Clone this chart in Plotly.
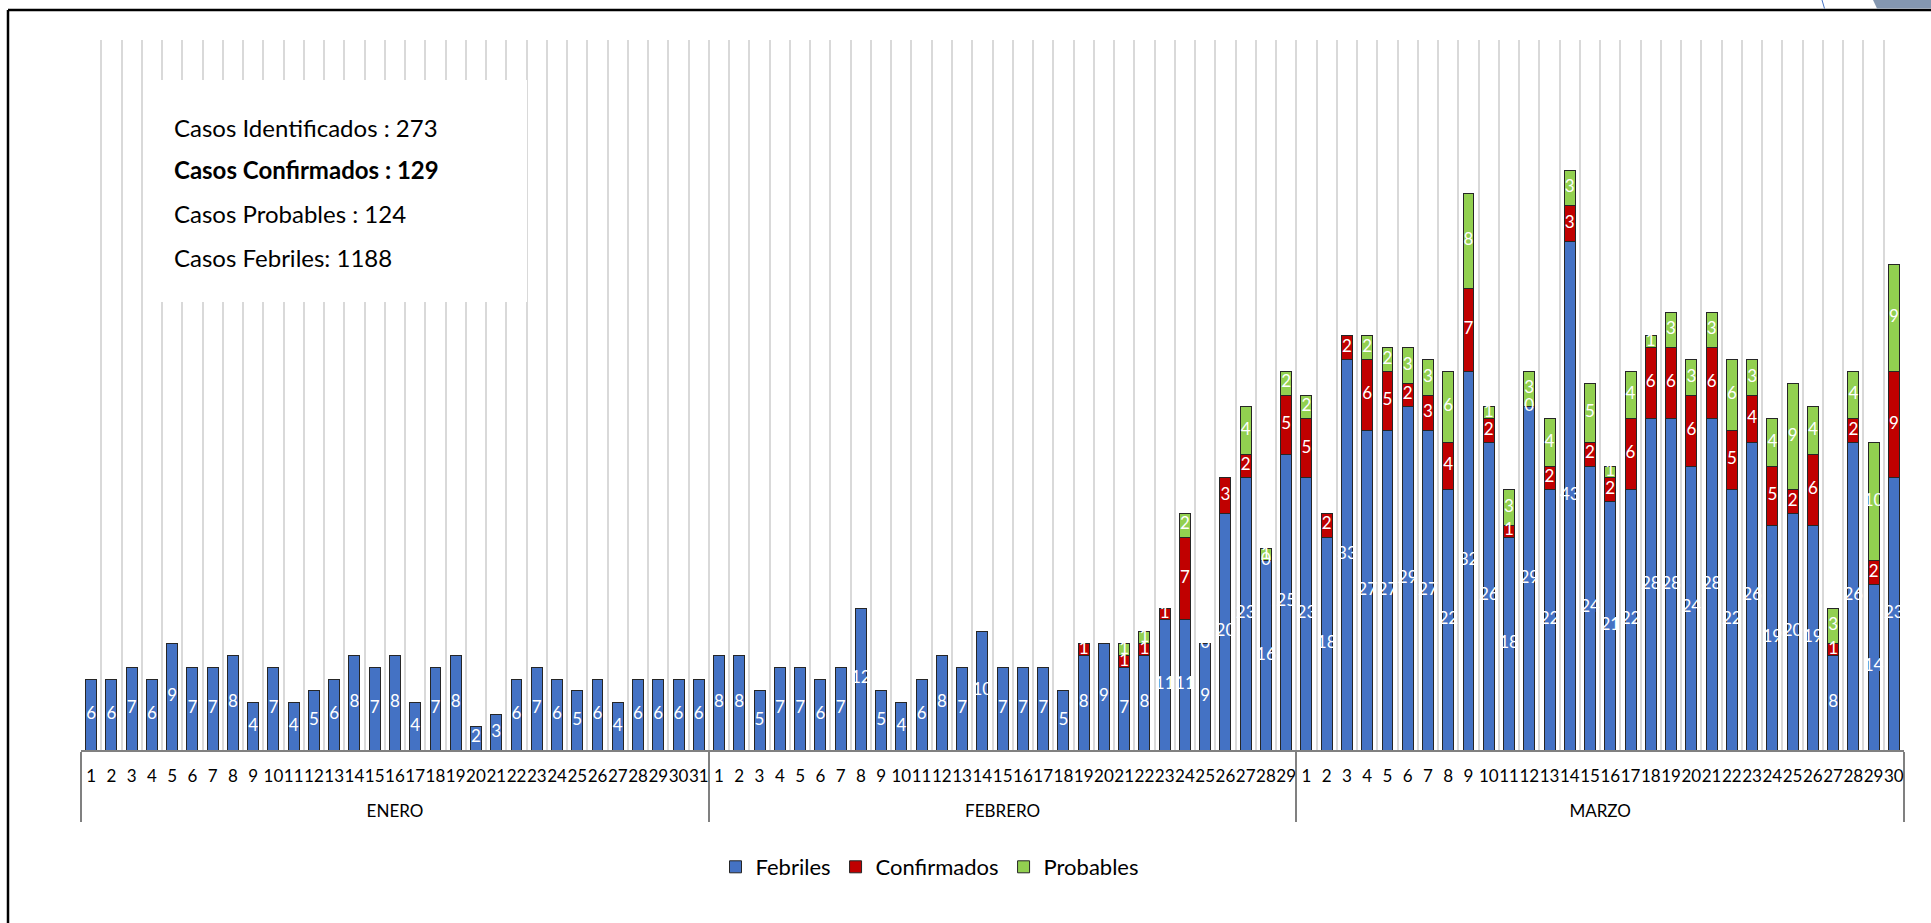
import plotly.graph_objects as go

# ---------------- data ----------------
month_names = ["ENERO", "FEBRERO", "MARZO"]

febriles_enero = [6, 6, 7, 6, 9, 7, 7, 8, 4, 7, 4, 5, 6, 8, 7, 8, 4, 7, 8, 2, 3, 6, 7, 6, 5, 6, 4, 6, 6, 6, 6]
febriles_febrero = [8, 8, 5, 7, 7, 6, 7, 12, 5, 4, 6, 8, 7, 10, 7, 7, 7, 5, 8, 9, 7, 8, 11, 11, 9, 20, 23, 16, 25]
febriles_marzo = [23, 18, 33, 27, 27, 29, 27, 22, 32, 26, 18, 29, 22, 43, 24, 21, 22, 28, 28, 24, 28, 22, 26, 19, 20, 19, 8, 26, 14, 23]

N = None
confirmados_enero = [N] * 31
confirmados_febrero = [N, N, N, N, N, N, N, N, N, N, N, N, N, N, N, N, N, N, 1, N, 1, 1, 1, 7, 0, 3, 2, 0, 5]
confirmados_marzo = [5, 2, 2, 6, 5, 2, 3, 4, 7, 2, 1, 0, 2, 3, 2, 2, 6, 6, 6, 6, 6, 5, 4, 5, 2, 6, 1, 2, 2, 9]

probables_enero = [N] * 31
probables_febrero = [N, N, N, N, N, N, N, N, N, N, N, N, N, N, N, N, N, N, N, N, 1, 1, N, 2, N, N, 4, 1, 2]
probables_marzo = [2, N, N, 2, 2, 3, 3, 6, 8, 1, 3, 3, 4, 3, 5, 1, 4, 1, 3, 3, 3, 6, 3, 4, 9, 4, 3, 4, 10, 9]

summary_lines = [
    ("Casos Identificados : 273", False),
    ("Casos Confirmados : 129", True),
    ("Casos Probables : 124", False),
    ("Casos Febriles: 1188", False),
]

# ---------------- build ----------------
febriles_by_month = [febriles_enero, febriles_febrero, febriles_marzo]
confirm_by_month = [confirmados_enero, confirmados_febrero, confirmados_marzo]
prob_by_month = [probables_enero, probables_febrero, probables_marzo]

months, days, feb, conf, prob = [], [], [], [], []
for m, f, c, p in zip(month_names, febriles_by_month, confirm_by_month, prob_by_month):
    for i in range(len(f)):
        months.append("<br>" + m)   # leading break pushes the month row lower
        days.append(str(i + 1))
    feb += f
    conf += c
    prob += p

x = [months, days]

BLUE = "#4472C4"
RED = "#C00000"
GREEN = "#92D050"
FONT = "Lato"

fig = go.Figure()
for name, vals, col in [("Febriles", feb, BLUE), ("Confirmados", conf, RED), ("Probables", prob, GREEN)]:
    fig.add_trace(go.Bar(
        x=x, y=vals, name=name,
        marker=dict(color=col, line=dict(color="#262626", width=1)),
        hoverinfo="y+name",
    ))

# labels at segment centres
def label_trace(vals, bases):
    xs_m, xs_d, ys, txt = [], [], [], []
    for i, v in enumerate(vals):
        if v is None:
            continue
        xs_m.append(months[i])
        xs_d.append(days[i])
        ys.append(bases[i] + v / 2)
        txt.append(str(v))
    return go.Scatter(
        x=[xs_m, xs_d], y=ys, text=txt, mode="text",
        textfont=dict(family=FONT, size=17, color="white"),
        textposition="middle center", showlegend=False, hoverinfo="skip",
        cliponaxis=False,
    )

zero = [0] * len(feb)
base_conf = [f for f in feb]
base_prob = [f + (c or 0) for f, c in zip(feb, conf)]
fig.add_trace(label_trace(feb, zero))
fig.add_trace(label_trace(conf, base_conf))
fig.add_trace(label_trace(prob, base_prob))

W, H = 1931, 923
L, R, T, B = 81, 27, 40, 173
pw, ph = W - L - R, H - T - B

def px(xp):
    return (xp - L) / pw

def py(yp):
    return (H - B - yp) / ph

shapes = [
    # white box behind the summary text
    dict(type="rect", xref="paper", yref="paper", x0=px(145), x1=px(527), y0=py(302), y1=py(80),
         fillcolor="white", line=dict(width=0), layer="above"),
    # outer frame (top and left)
    dict(type="line", xref="paper", yref="paper", x0=px(8), x1=px(W + 5), y0=py(10), y1=py(10),
         line=dict(color="black", width=2.5)),
    dict(type="line", xref="paper", yref="paper", x0=px(8), x1=px(8), y0=py(10), y1=py(H + 5),
         line=dict(color="black", width=2.5)),
    # decoration top right
    dict(type="path", xref="paper", yref="paper",
         path=f"M {px(1873)} {py(0)} L {px(1877)} {py(8.5)} L {px(W)} {py(8.5)} L {px(W)} {py(0)} Z",
         fillcolor="#8497B0", line=dict(width=0)),
    dict(type="line", xref="paper", yref="paper", x0=px(1822), x1=px(1824.5), y0=py(0), y1=py(8.5),
         line=dict(color="#4472C4", width=1)),
]

annotations = []
for (txt, bold), yc in zip(summary_lines, [128, 170, 213, 257]):
    annotations.append(dict(
        text=f"<b>{txt}</b>" if bold else txt, xref="paper", yref="paper",
        x=px(172), y=py(yc), xanchor="left", yanchor="middle", showarrow=False,
        font=dict(family=FONT, size=24, color="black"),
    ))

fig.update_layout(
    width=W, height=H,
    margin=dict(l=L, r=R, t=T, b=B),
    barmode="stack", bargap=0.46,
    plot_bgcolor="white", paper_bgcolor="white",
    font=dict(family=FONT, color="black"),
    shapes=shapes, annotations=annotations,
    legend=dict(orientation="h", x=px(930), xanchor="center", y=py(867), yanchor="middle",
                font=dict(family=FONT, size=22, color="black"), traceorder="normal",
                itemwidth=30),
    xaxis=dict(
        type="multicategory", range=[-0.5, len(feb) - 0.5],
        showgrid=True, gridcolor="#D9D9D9", gridwidth=2,
        showline=True, linecolor="#808080", linewidth=1.5,
        showdividers=True, dividercolor="#808080", dividerwidth=1.5,
        ticks="", ticklabelstandoff=10, tickangle=0,
        tickfont=dict(family=FONT, size=17, color="black"),
        zeroline=False,
    ),
    yaxis=dict(visible=False, range=[0, 60], showgrid=False, zeroline=False),
    showlegend=True,
)

fig.write_html("out.html", config={"displayModeBar": False},
               post_script="document.body.style.margin='0';")
